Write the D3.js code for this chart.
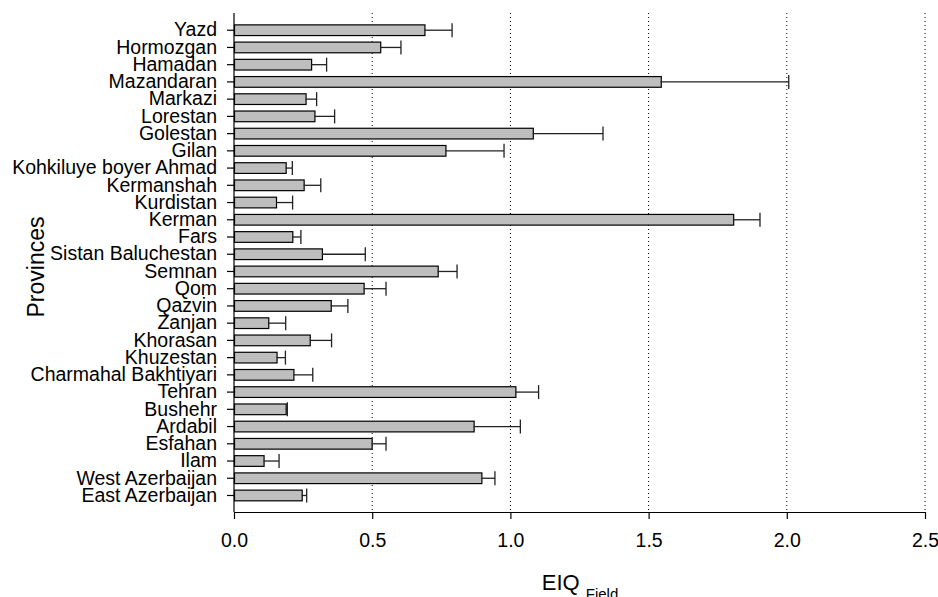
<!DOCTYPE html>
<html>
<head>
<meta charset="utf-8">
<script src="https://cdn.jsdelivr.net/npm/d3@7"></script>
<style>
  body { margin: 0; background: #fff; }
  svg { display: block; font-family: "Liberation Sans", Arial, sans-serif; }
</style>
</head>
<body>
<svg width="938" height="597"></svg>
<script>
// provinces, top to bottom as in the figure
const provinces = ["Yazd", "Hormozgan", "Hamadan", "Mazandaran", "Markazi", "Lorestan", "Golestan", "Gilan",
  "Kohkiluye boyer Ahmad", "Kermanshah", "Kurdistan", "Kerman", "Fars", "Sistan Baluchestan", "Semnan", "Qom",
  "Qazvin", "Zanjan", "Khorasan", "Khuzestan", "Charmahal Bakhtiyari", "Tehran", "Bushehr", "Ardabil",
  "Esfahan", "Ilam", "West Azerbaijan", "East Azerbaijan"];

// mean EIQ field
const eiq = [0.689, 0.529, 0.279, 1.544, 0.259, 0.291, 1.081, 0.765,
  0.187, 0.252, 0.152, 1.806, 0.211, 0.318, 0.737, 0.469,
  0.350, 0.124, 0.274, 0.154, 0.215, 1.018, 0.187, 0.867,
  0.498, 0.107, 0.895, 0.245];

// standard error (upper whisker only)
const se = [0.100, 0.075, 0.056, 0.463, 0.040, 0.073, 0.254, 0.212,
  0.024, 0.062, 0.060, 0.097, 0.031, 0.157, 0.070, 0.081,
  0.062, 0.063, 0.079, 0.032, 0.070, 0.084, 0.006, 0.169,
  0.052, 0.056, 0.049, 0.018];

const xTicks = [0, 0.5, 1.0, 1.5, 2.0, 2.5];

const data = provinces.map((p, i) => ({ name: p, value: eiq[i], se: se[i] }));

const svg = d3.select('svg');
const plot = { left: 234, right: 925, top: 13, bottom: 512 };

const x = d3.scaleLinear()
    .domain([0, 2.5])
    .range([plot.left, plot.right]);

const y = d3.scaleBand()
    .domain(provinces)
    .range([21.6, 504.1])
    .paddingInner(0.38)
    .paddingOuter(0.19);

// dotted gridlines
svg.append('g').selectAll('line')
    .data(xTicks.slice(1))
    .enter().append('line')
    .attr('x1', d => x(d)).attr('x2', d => x(d))
    .attr('y1', plot.top).attr('y2', plot.bottom)
    .attr('stroke', '#000')
    .attr('stroke-width', 1)
    .attr('stroke-dasharray', '1,3');

// bars
svg.append('g').selectAll('rect')
    .data(data)
    .enter().append('rect')
    .attr('x', x(0) + 0.5)
    .attr('y', d => y(d.name))
    .attr('width', d => x(d.value) - x(0))
    .attr('height', y.bandwidth())
    .attr('fill', '#bebebe')
    .attr('stroke', '#000')
    .attr('stroke-width', 1.2);

// error bars
const err = svg.append('g').attr('stroke', '#222').attr('stroke-width', 1.3);
err.selectAll('line.whisker')
    .data(data)
    .enter().append('line')
    .attr('class', 'whisker')
    .attr('x1', d => x(d.value)).attr('x2', d => x(d.value + d.se))
    .attr('y1', d => y(d.name) + y.bandwidth() / 2)
    .attr('y2', d => y(d.name) + y.bandwidth() / 2);
err.selectAll('line.cap')
    .data(data)
    .enter().append('line')
    .attr('class', 'cap')
    .attr('x1', d => x(d.value + d.se)).attr('x2', d => x(d.value + d.se))
    .attr('y1', d => y(d.name) + y.bandwidth() / 2 - 7)
    .attr('y2', d => y(d.name) + y.bandwidth() / 2 + 7);

// x axis
const xAxis = d3.axisBottom(x)
    .tickValues(xTicks)
    .tickFormat(d3.format('.1f'))
    .tickSize(7)
    .tickSizeOuter(0)
    .tickPadding(14);

svg.append('g')
    .attr('transform', 'translate(0,' + plot.bottom + ')')
    .call(xAxis)
    .call(g => g.selectAll('text').attr('font-size', 19.5).attr('fill', '#000').attr('font-family', null))
    .call(g => g.selectAll('line, path').attr('stroke', '#000').attr('stroke-width', 1.2));

// y axis
const yAxis = d3.axisLeft(y)
    .tickSize(7)
    .tickPadding(10);

svg.append('g')
    .attr('transform', 'translate(' + plot.left + ',0)')
    .call(yAxis)
    .call(g => g.select('.domain').remove())
    .call(g => g.selectAll('text').attr('font-size', 19.5).attr('fill', '#000').attr('font-family', null))
    .call(g => g.selectAll('line').attr('stroke', '#000').attr('stroke-width', 1.2));

svg.append('line')
    .attr('x1', plot.left).attr('x2', plot.left)
    .attr('y1', plot.top).attr('y2', plot.bottom)
    .attr('stroke', '#000').attr('stroke-width', 1.2);

// axis titles
svg.append('text')
    .attr('transform', 'translate(44,' + 267 + ') rotate(-90)')
    .attr('text-anchor', 'middle')
    .attr('font-size', 23)
    .text('Provinces');

const xt = svg.append('text')
    .attr('x', 580)
    .attr('y', 590)
    .attr('text-anchor', 'middle')
    .attr('font-size', 22);
xt.append('tspan').text('EIQ ');
xt.append('tspan').attr('font-size', 15).attr('dy', 9).text('Field');
</script>
</body>
</html>
